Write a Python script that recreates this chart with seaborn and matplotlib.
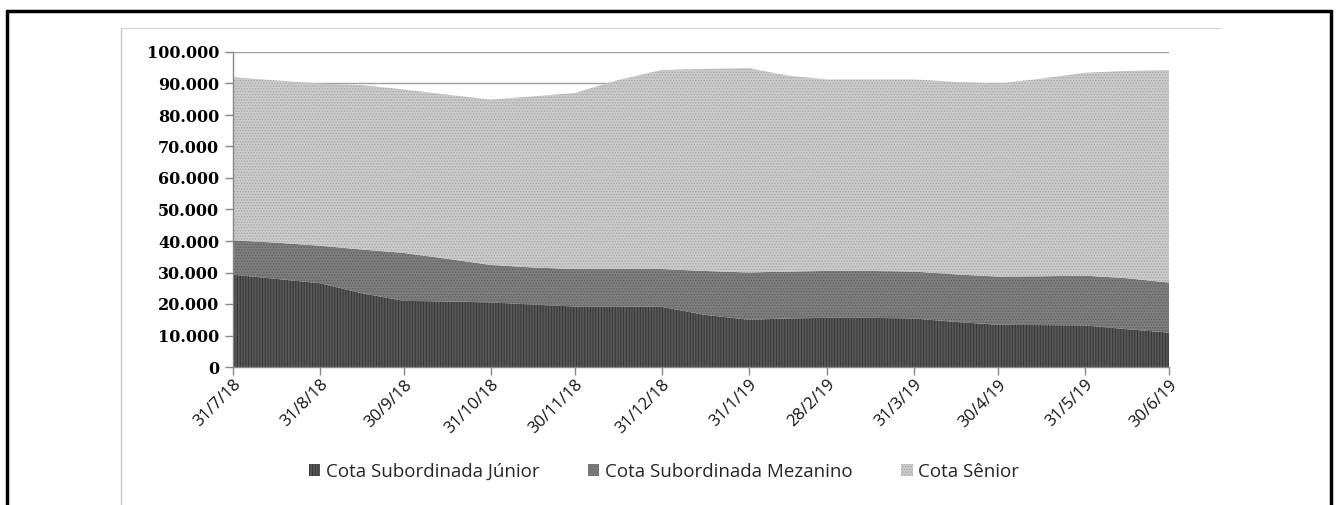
import pandas as pd
import matplotlib.pyplot as plt
import seaborn as sns
from matplotlib.lines import Line2D
from matplotlib.ticker import FuncFormatter, MultipleLocator

# ==============================================================
# DATA
# ==============================================================
dates = ["2018-07-31", "2018-08-15", "2018-08-31", "2018-09-15", "2018-09-30",
         "2018-10-15", "2018-10-31", "2018-11-15", "2018-11-30", "2018-12-15",
         "2018-12-31", "2019-01-15", "2019-01-31", "2019-02-14", "2019-02-28",
         "2019-03-15", "2019-03-31", "2019-04-15", "2019-04-30", "2019-05-15",
         "2019-05-31", "2019-06-15", "2019-06-30"]

junior = [29300, 28000, 26600, 23400, 21000, 20800, 20500, 19800, 19200, 19200,
          19100, 16600, 15000, 15400, 15600, 15600, 15400, 14300, 13400, 13300,
          13200, 12000, 10900]

mezanino = [10900, 11500, 11900, 13900, 15200, 13600, 11900, 11800, 11900, 11900,
            12000, 13900, 15000, 14900, 14900, 14900, 14900, 15100, 15300, 15500,
            15800, 16200, 15900]

senior = [51800, 51500, 51500, 52200, 51900, 52100, 52500, 54300, 55900, 59900,
          63200, 64100, 64900, 62200, 60800, 60800, 61000, 61100, 61300, 62700,
          64400, 65800, 67500]

series_names = ["Cota Subordinada Júnior", "Cota Subordinada Mezanino", "Cota Sênior"]

tick_labels = ["31/7/18", "31/8/18", "30/9/18", "31/10/18", "30/11/18", "31/12/18",
               "31/1/19", "28/2/19", "31/3/19", "30/4/19", "31/5/19", "30/6/19"]

# ==============================================================
# STYLE
# ==============================================================
sns.set_theme(style="white")
plt.rcParams['font.family'] = ['Open Sans', 'DejaVu Sans']
plt.rcParams['hatch.linewidth'] = 0.6

W, H = 1337, 505
fig = plt.figure(figsize=(W / 100, H / 100), dpi=100)
ax = fig.add_axes([233 / W, 1 - 367 / H, (1169 - 233) / W, (367 - 52) / H])

x = pd.to_datetime(dates)
fills = ["#575757", "#7e7e7e", "#cbcbcb"]
hatch_cols = ["#333333", "#5e5e5e", "#a5a5a5"]
hatches = ["||||||", "......", "......"]

ax.set_axisbelow(True)
polys = ax.stackplot(x, junior, mezanino, senior, colors=fills, labels=series_names,
                     linewidth=0, zorder=2)
for p, hc, h in zip(polys, hatch_cols, hatches):
    p.set_hatch(h)
    p.set_edgecolor(hc)
    p.set_linewidth(0)

# axes
ax.set_ylim(0, 100000)
ax.set_xlim(x[0], x[-1])
ax.yaxis.set_major_locator(MultipleLocator(10000))
ax.yaxis.set_major_formatter(FuncFormatter(lambda v, _: f"{v:,.0f}".replace(",", ".")))
ax.grid(axis="y", color="#a0a0a0", linewidth=1.0, zorder=0)
ax.grid(axis="x", visible=False)

tick_pos = pd.to_datetime(tick_labels, format="%d/%m/%y")
ax.set_xticks(tick_pos)
ax.set_xticklabels(tick_labels, rotation=45, ha="right", va="top",
                   rotation_mode="anchor", fontsize=12, color="#111111")

for lab in ax.get_yticklabels():
    lab.set_fontfamily("DejaVu Serif")
    lab.set_fontweight("bold")
    lab.set_fontsize(11.5)
    lab.set_color("#000000")

ax.tick_params(axis="y", which="major", length=6, width=1, color="#888888", pad=4,
               left=True)
ax.tick_params(axis="x", which="major", length=6, width=1, color="#888888", pad=1,
               bottom=True)

sns.despine(ax=ax, top=True, right=True)
for s in ["left", "bottom"]:
    ax.spines[s].set_color("#888888")
    ax.spines[s].set_linewidth(1.0)

# legend
leg = fig.legend(loc="center", bbox_to_anchor=(664 / W, 1 - 472 / H), ncol=3,
                 frameon=False, fontsize=13.5, handlelength=0.6, handleheight=0.6,
                 handletextpad=0.3, columnspacing=2.6)

# outer frames
def fline(x0, y0, x1, y1, **kw):
    fig.add_artist(Line2D([x0 / W, x1 / W], [1 - y0 / H, 1 - y1 / H],
                          transform=fig.transFigure, **kw))

fline(121, 28, 121, 505, color="#c8c8c8", linewidth=1)
fline(121, 28, 1220, 28, color="#d8d8d8", linewidth=1)
fline(7, 505, 7, 11, color="black", linewidth=2.5)
fline(7, 11, 1331, 11, color="black", linewidth=2.5)
fline(1331, 11, 1331, 505, color="black", linewidth=2.5)

fig.savefig("out.png", dpi=100)
